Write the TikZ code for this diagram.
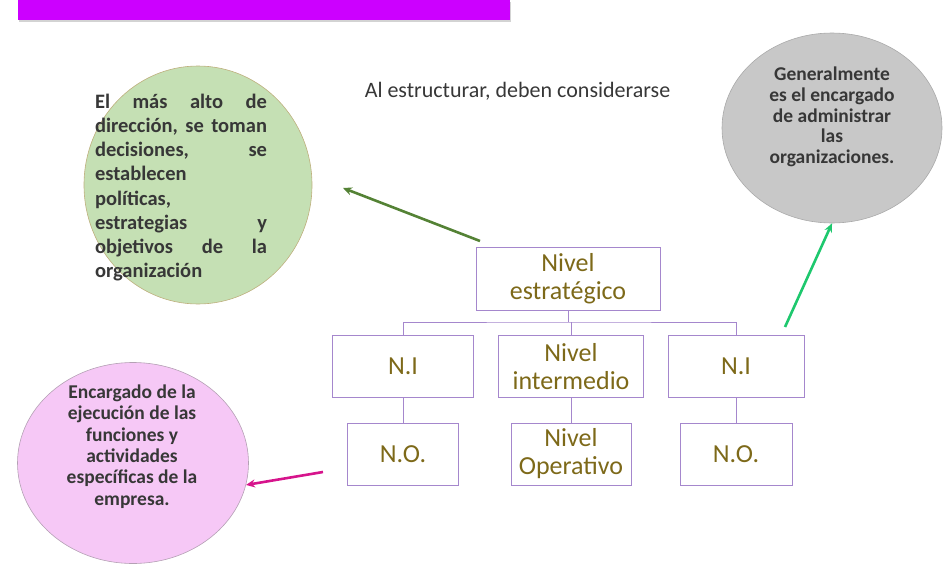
\documentclass[tikz,border=0pt]{standalone}
\usepackage{fontspec}
\setmainfont{Carlito}
\usetikzlibrary{arrows.meta,shapes.geometric,shadows}

\definecolor{bannerpurple}{RGB}{204,0,255}
\definecolor{boxline}{RGB}{165,135,205}
\definecolor{boxtext}{RGB}{125,105,25}
\definecolor{inkgray}{RGB}{55,55,55}
\definecolor{greenfill}{RGB}{197,224,180}
\definecolor{greenline}{RGB}{190,175,125}
\definecolor{grayfill}{RGB}{200,200,200}
\definecolor{pinkfill}{RGB}{246,200,246}
\definecolor{pinkline}{RGB}{180,160,180}
\definecolor{arrowdark}{RGB}{84,130,53}
\definecolor{arrowbright}{RGB}{30,200,110}
\definecolor{arrowpink}{RGB}{214,20,140}

\begin{document}
\begin{tikzpicture}[x=1pt,y=-1pt]
		\begin{scope}
		
		\tikzstyle{levelbox}=[rectangle,
		draw=boxline,
		line width=0.8pt,
		text=boxtext,
		align=center,
		inner sep=0pt,
		minimum height=62pt,
		font=\fontsize{26}{28}\selectfont
		]
		\tikzstyle{bubble}=[ellipse,
		line width=0.6pt,
		inner sep=0pt
		]
		\tikzstyle{bubbletext}=[text=inkgray,
		inner sep=0pt,
		font=\bfseries
		]
		\tikzstyle{pointer}=[line width=2.6pt,
		-{Stealth[length=9pt,width=8pt]}
		]
		
		\useasboundingbox (0,0) rectangle (947,568);
		
		\coordinate (ptitle) at (264,10);
		\coordinate (pnote) at (517.5,91);
		\coordinate (pgreen) at (198,185);
		\coordinate (pgray) at (832,128);
		\coordinate (ppink) at (133,463);
		\coordinate (pe) at (568,278.5);
		\coordinate (pil) at (403,366.5);
		\coordinate (pim) at (571,366.5);
		\coordinate (pir) at (736,366.5);
		\coordinate (pol) at (403,454);
		\coordinate (pom) at (571,454);
		\coordinate (por) at (736,454);
		
		\node[fill=bannerpurple, minimum width=492pt, minimum height=20pt, inner sep=0pt,
		drop shadow={shadow xshift=1pt, shadow yshift=-2pt, opacity=0.35}] (title) at (ptitle) {};
		\node[text=inkgray, inner sep=0pt, font=\fontsize{22}{26}\selectfont] (note) at (pnote) {Al estructurar, deben considerarse};
		
		\node[bubble, draw=greenline, fill=greenfill, minimum width=228pt, minimum height=238pt] (green) at (pgreen) {};
		\node[bubble, draw=grayfill!85!black, fill=grayfill, minimum width=220pt, minimum height=190pt] (gray) at (pgray) {};
		\node[bubble, draw=pinkline, fill=pinkfill, minimum width=231pt, minimum height=201pt] (pink) at (ppink) {};
		
		\node[bubbletext, text width=172pt, align=left, font=\bfseries\fontsize{20.5}{24.2}\selectfont] (greentext) at (181,187.5)
		{El\hfill más\hfill alto\hfill de\\
		dirección,\hfill se\hfill toman\\
		decisiones,\hfill se\\
		establecen\\
		políticas,\\
		estrategias\hfill y\\
		objetivos\hfill de\hfill la\\
		organización};
		\node[bubbletext, align=center, font=\bfseries\fontsize{19.5}{20.8}\selectfont] (graytext) at (832,117)
		{Generalmente\\es el encargado\\de administrar\\las\\organizaciones.};
		\node[bubbletext, align=center, font=\bfseries\fontsize{19.5}{21.4}\selectfont] (pinktext) at (132,446.5)
		{Encargado de la\\ejecución de las\\funciones y\\actividades\\específicas de la\\empresa.};
		
		\node[levelbox, minimum width=184pt, minimum height=63pt] (e) at (pe) {Nivel\\estratégico};
		\node[levelbox, minimum width=141pt] (il) at (pil) {N.I};
		\node[levelbox, minimum width=145pt] (im) at (pim) {Nivel\\intermedio};
		\node[levelbox, minimum width=136pt] (ir) at (pir) {N.I};
		\node[levelbox, minimum width=111pt] (ol) at (pol) {N.O.};
		\node[levelbox, minimum width=120pt] (om) at (pom) {Nivel\\Operativo};
		\node[levelbox, minimum width=112pt] (or) at (por) {N.O.};
		
		\coordinate (bar) at (568,322);
		\draw[-, draw=boxline, line width=0.8pt] (e.south) -- (bar);
		\draw[-, draw=boxline, line width=0.8pt] (il.north) |- (bar) -| (ir.north);
		\draw[-, draw=boxline, line width=0.8pt] (im.north) -- (im.north |- bar);
		\draw[-, draw=boxline, line width=0.8pt] (il.south) -- (ol.north);
		\draw[-, draw=boxline, line width=0.8pt] (im.south) -- (om.north);
		\draw[-, draw=boxline, line width=0.8pt] (ir.south) -- (or.north);
		
		\coordinate (pa1) at (480,241);
		\coordinate (pa1tip) at (343,188);
		\coordinate (pa2) at (785,327);
		\coordinate (pa3) at (323,472);
		\draw[pointer, draw=arrowdark] (pa1) -- (pa1tip);
		\draw[pointer, draw=arrowbright] (pa2) -- (gray.south);
		\draw[pointer, draw=arrowpink] (pa3) -- (pink.-11);
		
		\end{scope}
\end{tikzpicture}
\end{document}
